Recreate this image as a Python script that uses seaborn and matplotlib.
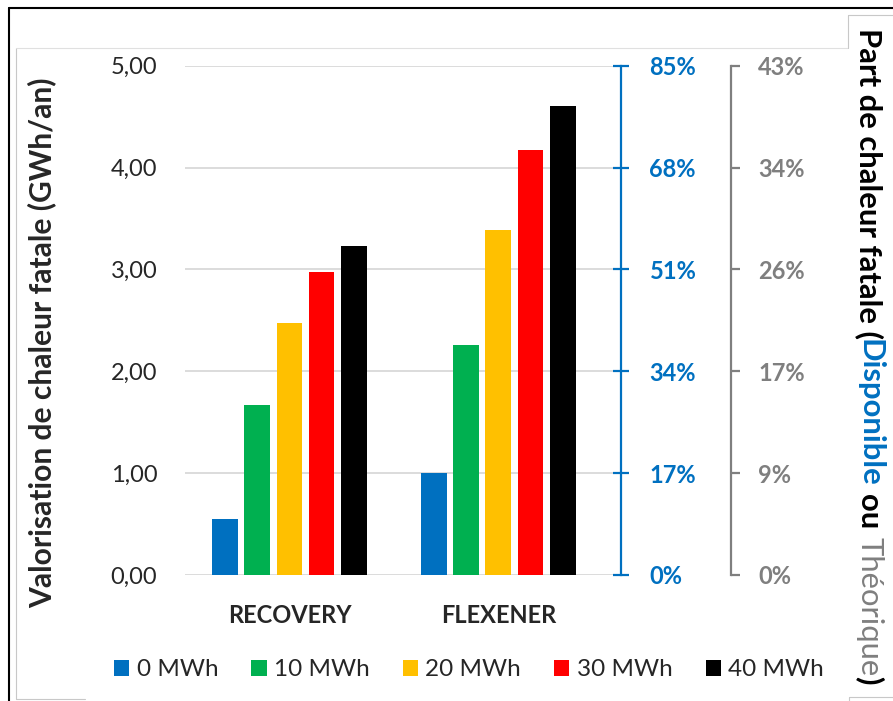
import numpy as np
import pandas as pd
import seaborn as sns
import matplotlib.pyplot as plt
from matplotlib.lines import Line2D

# Data
projets = ['RECOVERY', 'FLEXENER']
stockages = ['0 MWh', '10 MWh', '20 MWh', '30 MWh', '40 MWh']
recovery = [0.55, 1.67, 2.47, 2.97, 3.23]
flexener = [1.00, 2.26, 3.39, 4.17, 4.60]
couleurs = ['#0070C0', '#00B050', '#FFC000', '#FF0000', '#000000']

gauche_ticks = [0, 1, 2, 3, 4, 5]
gauche_labels = ['0,00', '1,00', '2,00', '3,00', '4,00', '5,00']
bleu_labels = ['0%', '17%', '34%', '51%', '68%', '85%']
gris_labels = ['0%', '9%', '17%', '26%', '34%', '43%']

BLEU = '#0070C0'
GRIS = '#7F7F7F'

sns.set_style('white')
plt.rcParams['font.family'] = ['Lato', 'DejaVu Sans']

W, H = 893, 701
fig = plt.figure(figsize=(W / 100, H / 100), dpi=100)

# axes placed in pixel coordinates of the reference
x0, x1, y0, y1 = 185, 621, 575, 65.7
ax = fig.add_axes([x0 / W, 1 - y0 / H, (x1 - x0) / W, (y0 - y1) / H])

df = pd.DataFrame({
    'projet': np.repeat(projets, len(stockages)),
    'stockage': stockages * len(projets),
    'valeur': recovery + flexener,
})

sns.barplot(data=df, x='projet', y='valeur', hue='stockage', hue_order=stockages,
            palette=couleurs, width=0.77, gap=0.2, errorbar=None, saturation=1,
            edgecolor='none', ax=ax)

ax.set_xlim(-0.5, 1.587)
ax.set_ylim(0, 5)
ax.set_yticks(gauche_ticks)
ax.set_yticklabels(gauche_labels)
ax.yaxis.grid(True, color='#D9D9D9', linewidth=1.3)
ax.set_axisbelow(True)
for s in ax.spines.values():
    s.set_visible(False)
ax.tick_params(axis='y', length=0, pad=20, labelsize=17)
ax.tick_params(axis='x', length=0, pad=21)
for lbl in ax.get_xticklabels():
    lbl.set_fontweight('bold')
    lbl.set_fontsize(17)
ax.set_xlabel('')
ax.set_ylabel('')

handles, labels = ax.get_legend_handles_labels()
ax.get_legend().remove()
fig.legend(handles, labels, loc='center', bbox_to_anchor=(469 / W, 1 - 670 / H),
           ncol=5, frameon=False, fontsize=17.5, handlelength=0.62, handleheight=0.62,
           handletextpad=0.3, columnspacing=1.37)

# right axis in blue
ax2 = ax.twinx()
ax2.set_ylim(0, 85)
ax2.set_yticks(np.linspace(0, 85, 6))
ax2.set_yticklabels(bleu_labels)
for k in ['top', 'bottom', 'left']:
    ax2.spines[k].set_visible(False)
ax2.spines['right'].set_color(BLEU)
ax2.spines['right'].set_linewidth(1.6)
ax2.tick_params(axis='y', direction='inout', length=11, width=1.6, color=BLEU,
                labelcolor=BLEU, pad=15, labelsize=17)
for lbl in ax2.get_yticklabels():
    lbl.set_fontweight('bold')

# second right axis in gray
ax3 = ax.twinx()
ax3.set_ylim(0, 43)
ax3.set_yticks(np.linspace(0, 43, 6))
ax3.set_yticklabels(gris_labels)
for k in ['top', 'bottom', 'left']:
    ax3.spines[k].set_visible(False)
ax3.spines['right'].set_position(('outward', 110 * 0.72))
ax3.spines['right'].set_color(GRIS)
ax3.spines['right'].set_linewidth(1.6)
ax3.tick_params(axis='y', direction='out', length=6.5, width=1.6, color=GRIS,
                labelcolor=GRIS, pad=13, labelsize=17)
for lbl in ax3.get_yticklabels():
    lbl.set_fontweight('bold')

# left label
fig.text(42 / W, 1 - 343 / H, 'Valorisation de chaleur fatale (GWh/an)',
         rotation=90, ha='center', va='center', fontsize=21.6, fontweight='bold')

# right label, several colours, stacked top to bottom
TAILLE = 22.3
morceaux = [('Part de chaleur fatale (', 'black', 'bold'),
            ('Disponible', BLEU, 'bold'),
            (' ou ', 'black', 'bold'),
            ('Théorique', GRIS, 'normal'),
            (')', 'black', 'bold')]
fig.canvas.draw()
r = fig.canvas.get_renderer()
inv = fig.transFigure.inverted()


def hauteur(s, w):
    t = fig.text(0, 0, s, rotation=270, fontsize=TAILLE, fontweight=w)
    h = t.get_window_extent(r).height
    t.remove()
    return h


y = 1 - 28 / H
xr = 869 / W
for s, c, w in morceaux:
    esp_g = len(s) - len(s.lstrip(' '))
    esp_d = len(s) - len(s.rstrip(' '))
    sp = hauteur('a a', w) - hauteur('aa', w)
    y -= esp_g * sp / H
    t = fig.text(xr, y, s.strip(' '), rotation=270, ha='center', va='top',
                 color=c, fontsize=TAILLE, fontweight=w)
    bb = t.get_window_extent(r)
    y = inv.transform((0, bb.y0))[1] - esp_d * sp / H

# frame lines from the original screenshot
def trait(xs, ys, c, lw):
    fig.add_artist(Line2D([x / W for x in xs], [1 - v / H for v in ys],
                          color=c, linewidth=lw, transform=fig.transFigure))


trait([9, 893], [8.3, 8.3], 'black', 1.5)
trait([9, 9], [8.3, 701], 'black', 1.5)
trait([15.5, 15.5], [48, 699], '#C8C8C8', 0.8)
trait([15.5, 848], [48, 48], '#E0E0E0', 0.8)
trait([848, 848], [48, 15], '#C8C8C8', 0.8)
trait([848, 893], [15, 15], '#C8C8C8', 0.8)
trait([15.5, 85], [699, 699], '#C8C8C8', 0.8)
trait([849, 893], [697, 697], '#C8C8C8', 0.8)
trait([849, 849], [697, 701], '#C8C8C8', 0.8)

fig.savefig('out.png', dpi=100)
